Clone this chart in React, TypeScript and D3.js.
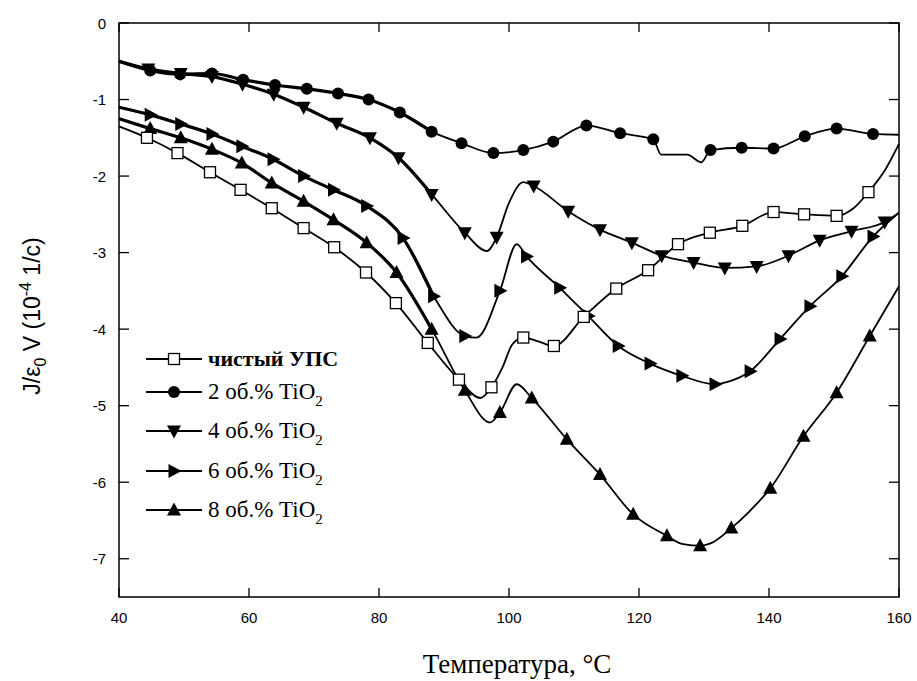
import React from "react";
import * as d3 from "d3";

// [temperature °C, value (10^-4 1/c), marker flag]
const pureData: [number, number, number][] = [
  [40, -1.35, 0], [44.3, -1.5, 1], [49, -1.7, 1], [54, -1.95, 1], [58.7, -2.18, 1],
  [63.5, -2.42, 1], [68.4, -2.68, 1], [73.1, -2.93, 1], [78, -3.26, 1], [82.6, -3.66, 1],
  [87.5, -4.18, 1], [92.3, -4.66, 1], [95.6, -4.9, 0], [97.3, -4.76, 1], [99, -4.5, 0],
  [100.5, -4.2, 0], [102.2, -4.11, 1], [104.5, -4.16, 0], [106.9, -4.22, 1], [111.5, -3.84, 1],
  [116.5, -3.47, 1], [121.4, -3.23, 1], [126, -2.89, 1], [130.9, -2.74, 1], [135.9, -2.65, 1],
  [140.7, -2.47, 1], [145.4, -2.5, 1], [150.4, -2.52, 1], [153, -2.42, 0], [155.3, -2.21, 1],
  [158, -1.9, 0], [160, -1.58, 0],
];

const ti2Data: [number, number, number][] = [
  [40, -0.5, 0], [44.8, -0.62, 1], [49.4, -0.67, 1], [54.3, -0.66, 1], [59.1, -0.74, 1],
  [64, -0.81, 1], [68.9, -0.86, 1], [73.7, -0.92, 1], [78.4, -1.0, 1], [83.2, -1.17, 1],
  [88.1, -1.42, 1], [92.7, -1.57, 1], [97.6, -1.7, 1], [102.2, -1.66, 1], [106.8, -1.55, 1],
  [111.9, -1.34, 1], [117.1, -1.44, 1], [122.2, -1.52, 1], [123.4, -1.72, 0], [127.4, -1.72, 0],
  [129.6, -1.82, 0], [131, -1.66, 1], [135.8, -1.63, 1], [140.7, -1.64, 1], [145.5, -1.48, 1],
  [150.4, -1.38, 1], [156, -1.45, 1], [160, -1.46, 0],
];

const ti4Data: [number, number, number][] = [
  [40, -0.5, 0], [44.5, -0.6, 1], [49.5, -0.66, 1], [54.3, -0.7, 1], [59, -0.8, 1],
  [63.8, -0.93, 1], [68.4, -1.1, 1], [73.5, -1.31, 1], [78.6, -1.5, 1], [83, -1.76, 1],
  [88.1, -2.24, 1], [93.2, -2.74, 1], [96.6, -2.98, 0], [98.1, -2.8, 1], [100, -2.35, 0],
  [102.2, -2.08, 0], [103.8, -2.13, 1], [109.1, -2.46, 1], [114, -2.7, 1], [118.9, -2.87, 1],
  [123.5, -3.04, 1], [128.4, -3.13, 1], [133.2, -3.2, 1], [138.1, -3.18, 1], [143, -3.04, 1],
  [147.8, -2.84, 1], [152.7, -2.72, 1], [157.8, -2.6, 1], [160, -2.48, 0],
];

const ti6Data: [number, number, number][] = [
  [40, -1.1, 0], [44.8, -1.2, 1], [49.5, -1.32, 1], [54.3, -1.45, 1], [58.9, -1.61, 1],
  [63.7, -1.78, 1], [68.4, -2.0, 1], [73, -2.18, 1], [78.1, -2.39, 1], [83.7, -2.81, 1],
  [88.4, -3.57, 1], [93.2, -4.09, 1], [95, -4.11, 0], [98.6, -3.5, 1], [101.2, -2.89, 0],
  [102.7, -3.05, 1], [107.8, -3.46, 1], [112.2, -3.83, 1], [116.8, -4.22, 1], [121.7, -4.45, 1],
  [126.6, -4.61, 1], [131.7, -4.72, 1], [134, -4.68, 0], [137.1, -4.55, 1], [141.7, -4.13, 1],
  [146.3, -3.7, 1], [151.2, -3.31, 1], [156, -2.79, 1], [160, -2.48, 0],
];

const ti8Data: [number, number, number][] = [
  [40, -1.25, 0], [44.8, -1.38, 1], [49.5, -1.5, 1], [54.3, -1.65, 1], [58.9, -1.83, 1],
  [63.5, -2.09, 1], [68.4, -2.33, 1], [73, -2.57, 1], [78.1, -2.87, 1], [82.7, -3.26, 1],
  [88.1, -4.0, 1], [93.2, -4.8, 1], [97.1, -5.22, 0], [98.6, -5.09, 1], [101.2, -4.72, 0],
  [103.5, -4.9, 1], [108.9, -5.44, 1], [114, -5.9, 1], [119.1, -6.42, 1], [124.3, -6.7, 1],
  [126.8, -6.81, 0], [129.4, -6.83, 1], [131, -6.8, 0], [134.2, -6.6, 1], [137, -6.38, 0],
  [140.2, -6.08, 1], [145.3, -5.4, 1], [150.4, -4.83, 1], [155.5, -4.09, 1], [160, -3.44, 0],
];

const seriesNames = ["чистый УПС", "2 об.% TiO", "4 об.% TiO", "6 об.% TiO", "8 об.% TiO"];
const seriesSubs = ["", "2", "2", "2", "2"];
const seriesMarkers = ["square", "circle", "triDown", "triRight", "triUp"];
const seriesList = [pureData, ti2Data, ti4Data, ti6Data, ti8Data];

const xTicks = [40, 60, 80, 100, 120, 140, 160];
const yTicks = [0, -1, -2, -3, -4, -5, -6, -7];

const W = 917;
const H = 681;
const L = 119, R = 899, T = 23, B = 597;

function Marker({ kind, x, y, s = 1 }: { kind: string; x: number; y: number; s?: number }) {
  if (kind === "square") {
    const h = 5.5 * s;
    return <rect x={x - h} y={y - h} width={2 * h} height={2 * h} fill="#fff" stroke="#000" strokeWidth={1.3} />;
  }
  if (kind === "circle") return <circle cx={x} cy={y} r={6 * s} fill="#000" />;
  let pts: number[][] = [];
  const a = 7 * s, b = 5.5 * s, c = 7.5 * s;
  if (kind === "triDown") pts = [[x - a, y - b], [x + a, y - b], [x, y + c]];
  if (kind === "triUp") pts = [[x - a, y + b], [x + a, y + b], [x, y - c]];
  if (kind === "triRight") pts = [[x - b, y - a], [x - b, y + a], [x + c, y]];
  return <polygon points={pts.map((p) => p.join(",")).join(" ")} fill="#000" />;
}

export default function App() {
  const x = d3.scaleLinear().domain([40, 160]).range([L, R]);
  const y = d3.scaleLinear().domain([-7.5, 0]).range([B, T]);
  const line = d3
    .line<[number, number, number]>()
    .x((d) => x(d[0]))
    .y((d) => y(d[1]))
    .curve(d3.curveMonotoneX);

  const legendY = [359, 392, 431, 471, 510];
  const order = [1, 2, 3, 4, 0];
  const serif = "'Times New Roman', 'Liberation Serif', serif";
  const sans = "Arial, 'Liberation Sans', sans-serif";

  return (
    <svg width={W} height={H} style={{ position: "absolute", left: 0, top: 0, background: "#fff" }}>
      <rect x={0} y={0} width={W} height={H} fill="#fff" />
      {/* heavier (noisy) low-temperature parts */}
      {[1, 2, 3, 4].map((i) => (
        <path
          key={"n" + i}
          d={line(seriesList[i].filter((d) => d[0] <= 90)) || ""}
          fill="none"
          stroke="#000"
          strokeWidth={3.2}
        />
      ))}
      {/* series lines */}
      {order.map((i) => (
        <path key={"l" + i} d={line(seriesList[i]) || ""} fill="none" stroke="#000" strokeWidth={1.8} />
      ))}
      {order.map((i) =>
        seriesList[i]
          .filter((d) => d[2] === 1)
          .map((d, j) => <Marker key={"m" + i + "-" + j} kind={seriesMarkers[i]} x={x(d[0])} y={y(d[1])} />)
      )}
      {/* frame */}
      <rect x={L} y={T} width={R - L} height={B - T} fill="none" stroke="#000" strokeWidth={1.5} />
      {xTicks.map((t) => (
        <g key={"xt" + t}>
          <line x1={x(t)} x2={x(t)} y1={B} y2={B - 9} stroke="#000" strokeWidth={1.3} />
          <line x1={x(t)} x2={x(t)} y1={T} y2={T + 9} stroke="#000" strokeWidth={1.3} />
          <text x={x(t)} y={623} textAnchor="middle" fontFamily={sans} fontSize={15}>
            {t}
          </text>
        </g>
      ))}
      {yTicks.map((t) => (
        <g key={"yt" + t}>
          <line x1={L} x2={L + 10} y1={y(t)} y2={y(t)} stroke="#000" strokeWidth={1.3} />
          <line x1={R} x2={R - 10} y1={y(t)} y2={y(t)} stroke="#000" strokeWidth={1.3} />
          <text x={106} y={y(t) + 5.5} textAnchor="end" fontFamily={sans} fontSize={15}>
            {t}
          </text>
        </g>
      ))}
      {/* legend */}
      {[0, 1, 2, 3, 4].map((i) => (
        <g key={"lg" + i}>
          <line x1={146} x2={202} y1={legendY[i]} y2={legendY[i]} stroke="#000" strokeWidth={1.8} />
          <Marker kind={seriesMarkers[i]} x={174} y={legendY[i]} />
          <text
            x={208}
            y={legendY[i] + 7}
            fontFamily={serif}
            fontSize={i === 0 ? 22 : 23}
            fontWeight={i === 0 ? "bold" : "normal"}
          >
            {seriesNames[i]}
            {seriesSubs[i] ? (
              <tspan fontSize={15} dy={7}>
                {seriesSubs[i]}
              </tspan>
            ) : null}
          </text>
        </g>
      ))}
      {/* axis titles */}
      <text x={517} y={673} textAnchor="middle" fontFamily={serif} fontSize={27}>
        Температура, °C
      </text>
      <text transform="translate(40,316) rotate(-90)" textAnchor="middle" fontFamily={sans} fontSize={23}>
        J/ε<tspan fontSize={16} dy={6}>0</tspan>
        <tspan dy={-6}> V (10</tspan>
        <tspan fontSize={16} dy={-9}>-4</tspan>
        <tspan dy={9}> 1/c)</tspan>
      </text>
    </svg>
  );
}
